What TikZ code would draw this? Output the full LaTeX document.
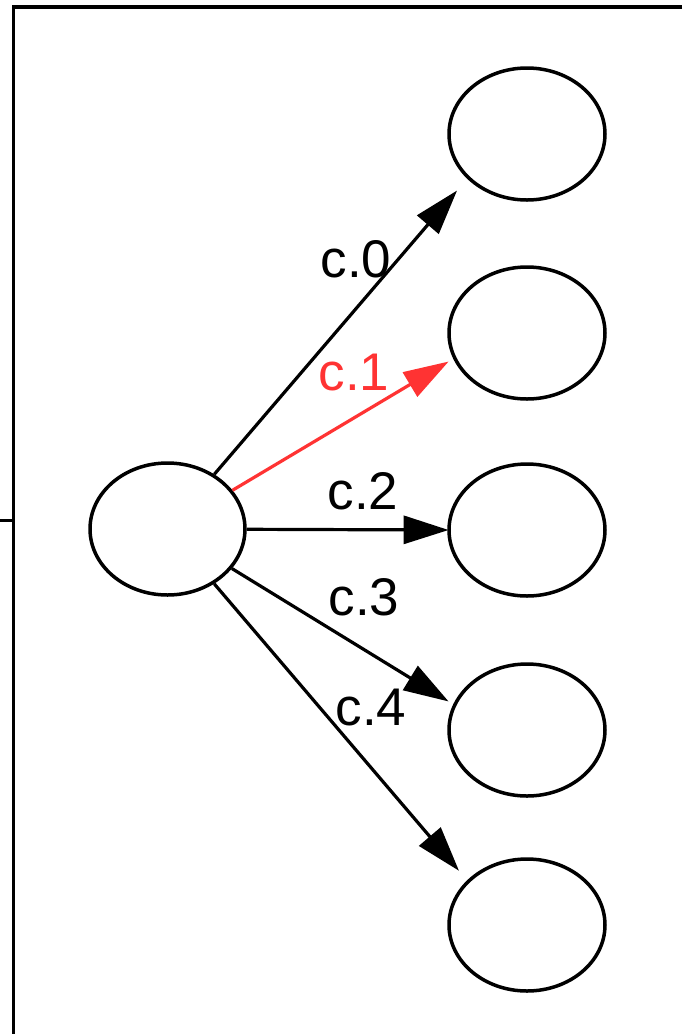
\documentclass[tikz,border=0pt]{standalone}
\usepackage{fontspec}
\setmainfont{Liberation Sans}
\usetikzlibrary{arrows.meta,shapes.geometric}

\definecolor{hot}{RGB}{255,51,51}

\begin{document}
\begin{tikzpicture}[
  x=0.5pt, y=-0.5pt,
  font=\fontsize{26.5}{30}\selectfont,
  frame/.style={line width=1.6pt},
  source/.style={draw,ellipse,line width=1.75pt,minimum width=77.5pt,minimum height=66pt,inner sep=0pt},
  slot/.style={rectangle,minimum width=78pt,minimum height=66pt,inner sep=0pt},
  ring/.style={line width=1.75pt},
  edge/.style={line width=1.6pt,-{Triangle[length=22.5pt,width=14pt]}},
  hotedge/.style={edge,draw=hot,fill=hot},
  lbl/.style={inner sep=0pt}
]
\useasboundingbox (0,0) rectangle (682,1034);

% outer frame
\draw[frame] (682,7) -- (13.5,7) -- (13.5,1040);
\draw[frame] (0,520.5) -- (13.5,520.5);

\node[source] (s) at (167.5,529) {};

\foreach \i/\y in {0/134,1/333,2/530,3/730,4/925}{
  \node[slot] (t\i) at (527,\y) {};
  \draw[ring] (t\i.center) ellipse [x radius=39pt, y radius=33pt];
}

\draw[edge,shorten >=-6.5pt] (s) -- (t0.south west);
\draw[hotedge] (s) -- (t1.200);
\draw[edge] (s) -- (t2.west);
\draw[edge] (s) -- (t3.160);
\draw[edge,shorten >=-8pt] (s) -- (t4.north west);

\node[lbl] (l0) at (356,259) {c.0};
\node[lbl,text=hot] (l1) at (354,373) {c.1};
\node[lbl] (l2) at (363,491) {c.2};
\node[lbl] (l3) at (364,597) {c.3};
\node[lbl] (l4) at (371,708) {c.4};
\end{tikzpicture}
\end{document}
